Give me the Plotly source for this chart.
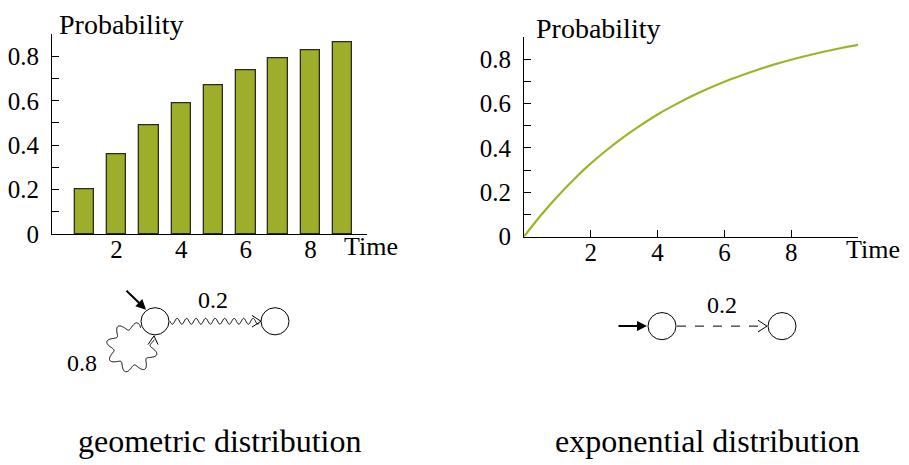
import numpy as np
import plotly.graph_objects as go

# geometric distribution: P(X <= k)
steps = [1, 2, 3, 4, 5, 6, 7, 8, 9]
geo_prob = [0.20, 0.36, 0.49, 0.59, 0.67, 0.74, 0.79, 0.83, 0.865]

# exponential distribution: P(X <= t)
times = [0, 0.5, 1, 1.5, 2, 2.5, 3, 3.5, 4, 4.5, 5, 5.5, 6, 6.5, 7, 7.5, 8, 8.5, 9, 9.5, 10]
exp_prob = [0.0, 0.095, 0.181, 0.259, 0.33, 0.393, 0.451, 0.503, 0.551, 0.593, 0.632,
            0.667, 0.699, 0.727, 0.753, 0.777, 0.798, 0.817, 0.835, 0.851, 0.865]

y_ticks = [0, 0.2, 0.4, 0.6, 0.8]
y_labels = ['0', '0.2', '0.4', '0.6', '0.8']
x_ticks = [2, 4, 6, 8]

# page is 909x465; the body keeps an 8px side margin
MX, MY = 8, 0
W, H = 909 - 2 * MX, 465
SERIF = 'Liberation Serif'
GREEN = '#9fae2a'


def dx(p0, p1):
    return [(p0 - MX) / W, (p1 - MX) / W]


def dy(top, bottom):
    return [1 - (bottom - MY) / H, 1 - (top - MY) / H]


def wavy(pts, amp, wavelength):
    # offset a polyline sideways by a sine wave -> svg path
    pts = np.asarray(pts, dtype=float)
    seg = np.diff(pts, axis=0)
    s = np.concatenate([[0], np.cumsum(np.hypot(seg[:, 0], seg[:, 1]))])
    tang = np.gradient(pts, axis=0)
    tang /= np.hypot(tang[:, 0], tang[:, 1])[:, None]
    norm = np.stack([-tang[:, 1], tang[:, 0]], axis=1)
    off = pts + norm * (amp * np.sin(2 * np.pi * s / wavelength))[:, None]
    return 'M ' + ' L '.join(f'{x:.2f},{y:.2f}' for x, y in off)


def line_path(pts):
    return 'M ' + ' L '.join(f'{x},{y}' for x, y in pts)


fig = go.Figure()

fig.add_trace(go.Bar(x=steps, y=geo_prob, width=0.6, xaxis='x', yaxis='y',
                     marker=dict(color=GREEN, line=dict(color='#2b2b1b', width=1.3)),
                     showlegend=False))
fig.add_trace(go.Scatter(x=times, y=exp_prob, mode='lines', xaxis='x2', yaxis='y2',
                         line=dict(color='#9db32a', width=2.2, shape='spline'),
                         showlegend=False))
# empty trace so the pixel overlay axes exist
fig.add_trace(go.Scatter(x=[], y=[], xaxis='x3', yaxis='y3', showlegend=False))

axis_common = dict(showline=True, linecolor='black', linewidth=1, showgrid=False,
                   zeroline=False, tickfont=dict(family=SERIF, size=25, color='black'))
y_common = dict(tickvals=y_ticks, ticktext=y_labels, ticks='inside', ticklen=7,
                tickcolor='black', ticklabelstandoff=7, range=[0, 0.9],
                minor=dict(dtick=0.1, tick0=0, ticks='inside', ticklen=7, tickcolor='black'))

fig.update_layout(
    width=W, height=H,
    margin=dict(l=0, r=0, t=0, b=0),
    plot_bgcolor='rgba(0,0,0,0)', paper_bgcolor='white',
    bargap=0,
    xaxis=dict(axis_common, domain=dx(52, 367), range=[0, 9.75],
               tickvals=x_ticks, ticks='', ticklabelstandoff=-7, anchor='y'),
    yaxis=dict(axis_common, **y_common, domain=dy(27, 233), anchor='x'),
    xaxis2=dict(axis_common, domain=dx(524, 858), range=[0, 10],
                tickvals=x_ticks, ticks='inside', ticklen=7, tickcolor='black',
                ticklabelstandoff=-7, anchor='y2'),
    yaxis2=dict(axis_common, **y_common, domain=dy(30, 235.7), anchor='x2'),
    xaxis3=dict(domain=[0, 1], range=[MX, MX + W], visible=False, anchor='y3'),
    yaxis3=dict(domain=[0, 1], range=[MY + H, MY], visible=False, anchor='x3'),
)

px = dict(xref='x3', yref='y3')
blk = dict(color='black', width=1)

# state circles
for cx, cy in [(155, 323), (275, 323), (662, 328), (782, 328)]:
    fig.add_shape(type='circle', x0=cx - 14, x1=cx + 14, y0=cy - 14, y1=cy + 14,
                  line=blk, fillcolor='white', **px)

# geometric: wavy transition 0.2
xs = np.linspace(170, 259, 200)
fig.add_shape(type='path', path=wavy(np.column_stack([xs, np.full_like(xs, 323)]), 3, 9.5),
              line=blk, **px)
fig.add_shape(type='path', path=line_path([(252, 317), (261, 323), (252, 329)]), line=blk, **px)

# geometric: wavy self loop 0.8
th = np.radians(np.linspace(-67, -380, 300))
loop = np.column_stack([132 + 22 * np.cos(th), 350 + 22 * np.sin(th)])
fig.add_shape(type='path', path=wavy(loop, 3.8, 17), line=blk, **px)
fig.add_shape(type='path', path=line_path([(148, 347), (154, 338), (158, 347)]), line=blk, **px)

# exponential: dashed transition 0.2
fig.add_shape(type='line', x0=677, x1=766, y0=328, y1=328,
              line=dict(color='black', width=1, dash='dash'), **px)
fig.add_shape(type='path', path=line_path([(758, 322), (767, 328), (758, 334)]), line=blk, **px)

# initial arrows
for (hx, hy), (tx, ty) in [((146, 311), (125, 290)), ((647, 328), (617, 328))]:
    fig.add_annotation(x=hx, y=hy, ax=tx, ay=ty, axref='x3', ayref='y3', text='',
                       showarrow=True, arrowhead=2, arrowsize=1, arrowwidth=2,
                       arrowcolor='black', standoff=0, **px)

texts = [
    ('Probability', 57, 17, 'left', 28),
    ('Probability', 534, 21, 'left', 28),
    ('Time', 342, 246, 'left', 26),
    ('Time', 844, 249, 'left', 26),
    ('0.2', 213, 301, 'center', 24),
    ('0.8', 82, 366, 'center', 24),
    ('0.2', 722, 306, 'center', 24),
    ('geometric distribution', 220, 446, 'center', 32),
    ('exponential distribution', 707, 446, 'center', 32),
]
for txt, x, y, anchor, size in texts:
    fig.add_annotation(x=x, y=y, text=txt, showarrow=False, xanchor=anchor, yanchor='middle',
                       font=dict(family=SERIF, size=size, color='black'), **px)

fig.write_html('out.html')
